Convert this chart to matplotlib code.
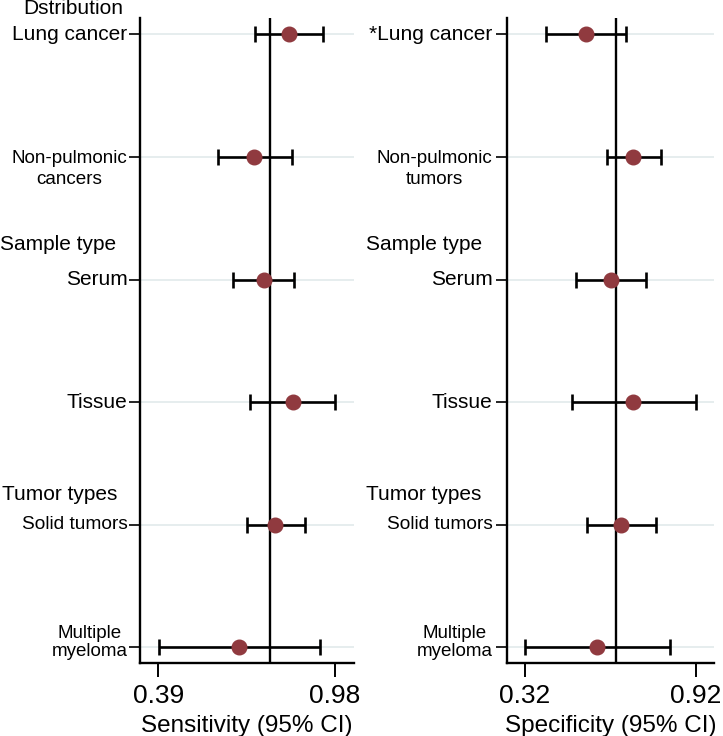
import numpy as np
import matplotlib
matplotlib.use("Agg")
import matplotlib.pyplot as plt

plt.rcParams['font.family'] = ['Liberation Sans', 'DejaVu Sans']

# forest plot data
rows = ["Lung cancer", "Non-pulmonic", "Serum", "Tissue", "Solid tumors", "Multiple myeloma"]

sens_est = [0.826, 0.711, 0.742, 0.839, 0.779, 0.660]
sens_lo = [0.714, 0.588, 0.639, 0.697, 0.686, 0.391]
sens_hi = [0.939, 0.835, 0.844, 0.980, 0.878, 0.930]
sens_pooled = 0.762

spec_est = [0.534, 0.701, 0.623, 0.700, 0.659, 0.573]
spec_lo = [0.394, 0.607, 0.500, 0.485, 0.537, 0.320]
spec_hi = [0.674, 0.798, 0.746, 0.920, 0.779, 0.829]
spec_pooled = 0.639

sens_labels = ["Lung cancer", "Non-pulmonic\ncancers", "Serum", "Tissue",
               "Solid tumors", "Multiple\nmyeloma"]
spec_labels = ["*Lung cancer", "Non-pulmonic\ntumors", "Serum", "Tissue",
               "Solid tumors", "Multiple\nmyeloma"]
sens_ticks = [0.39, 0.98]
spec_ticks = [0.32, 0.92]

# label layout: (y offset in row units, fontsize, linespacing)
label_style = [(0, 15, 1.2), (0.095, 13.6, 1.3), (0, 15, 1.2), (0, 15, 1.2),
               (0, 13.8, 1.2), (-0.035, 13.5, 1.05)]

dot_color = '#903a3f'
grid_color = '#e4eced'

fig = plt.figure(figsize=(7.23, 7.36), dpi=100)
ax1 = fig.add_axes([0.1936, 0.0992, 0.296, 0.8764])
ax2 = fig.add_axes([0.7008, 0.0992, 0.2867, 0.8764])

y = np.arange(len(rows))


def panel(ax, est, lo, hi, pooled, ticks, xlim, labels, xlabel, lab_x):
    est = np.array(est)
    err = [est - np.array(lo), np.array(hi) - est]
    for yy in y:
        ax.axhline(yy, color=grid_color, lw=1.3, zorder=0)
    ax.axvline(pooled, color='black', lw=1.7, zorder=1)
    ax.errorbar(est, y, xerr=err, fmt='none', ecolor='black', elinewidth=1.9,
                capsize=5.5, capthick=1.9, zorder=2)
    ax.plot(est, y, 'o', color=dot_color, markersize=10.5, zorder=3)
    ax.set_ylim(len(rows) - 1 + 0.13, -0.135)
    ax.set_xlim(*xlim)
    ax.set_xticks(ticks)
    ax.set_xticklabels([f"{t:.2f}" for t in ticks], fontsize=19)
    ax.set_xlabel(xlabel, fontsize=17.5, labelpad=5)
    ax.set_yticks(y)
    ax.set_yticklabels([])
    ax.tick_params(axis='x', length=10, width=1.4, pad=5)
    ax.tick_params(axis='y', length=8, width=1.2)
    for s in ['top', 'right']:
        ax.spines[s].set_visible(False)
    for s in ['left', 'bottom']:
        ax.spines[s].set_linewidth(1.7)
    tr = ax.get_yaxis_transform()
    for i, lab in enumerate(labels):
        dy, fs, ls = label_style[i]
        ax.text(lab_x, y[i] + dy, lab, transform=tr, ha='right', va='center',
                multialignment='center', fontsize=fs, linespacing=ls)


panel(ax1, sens_est, sens_lo, sens_hi, sens_pooled, sens_ticks, (0.329, 1.043),
      sens_labels, "Sensitivity (95% CI)", -0.058)
panel(ax2, spec_est, spec_lo, spec_hi, spec_pooled, spec_ticks, (0.257, 0.983),
      spec_labels, "Specificity (95% CI)", -0.068)

# group headers
fig.text(23 / 723, 1 - 8 / 736, "Dstribution", fontsize=15, ha='left', va='center')
fig.text(0 / 723, 1 - 245 / 736, "Sample type", fontsize=15, ha='left', va='center')
fig.text(2 / 723, 1 - 494 / 736, "Tumor types", fontsize=15, ha='left', va='center')
fig.text(366 / 723, 1 - 245 / 736, "Sample type", fontsize=15, ha='left', va='center')
fig.text(366 / 723, 1 - 494 / 736, "Tumor types", fontsize=15, ha='left', va='center')

fig.savefig("out.png", dpi=100)
